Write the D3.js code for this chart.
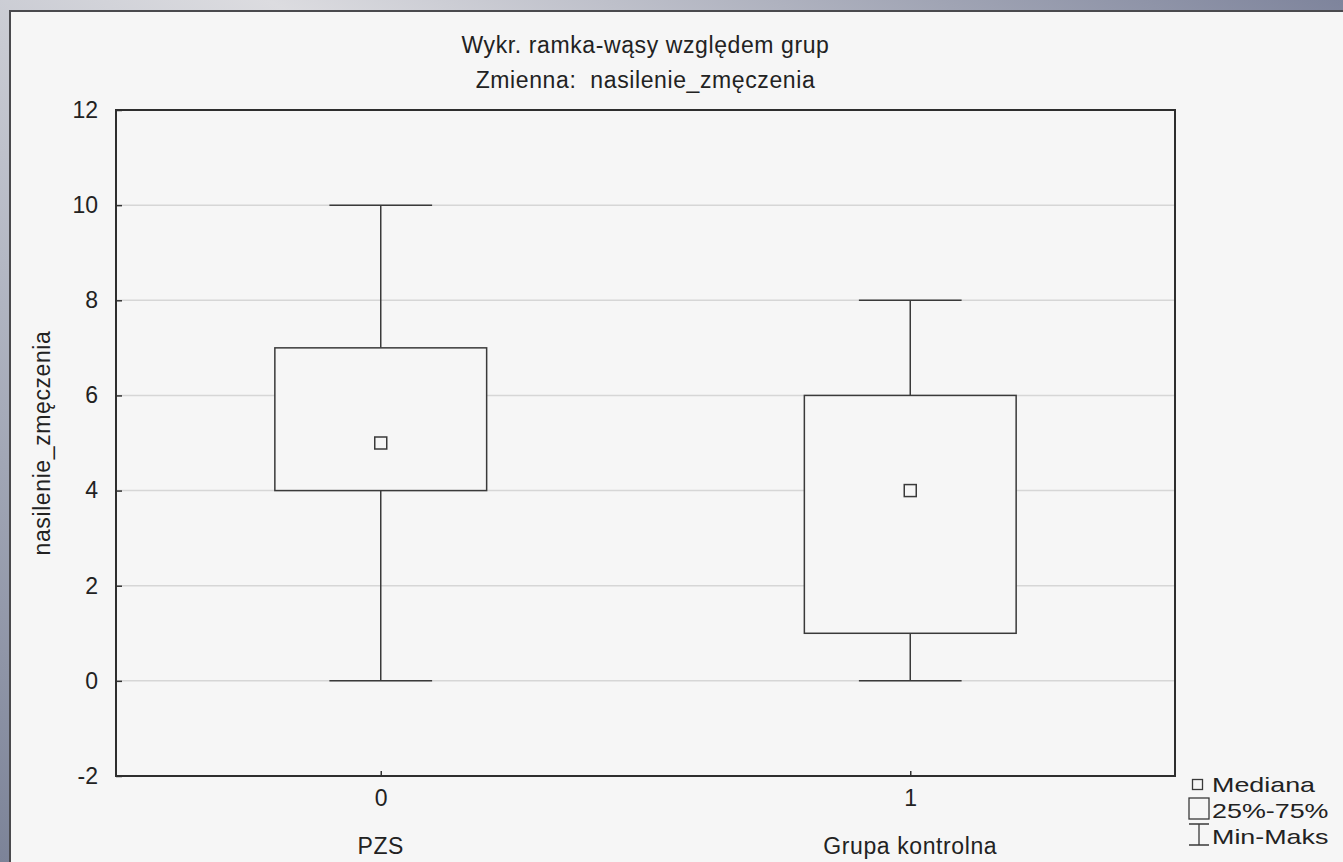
<!DOCTYPE html>
<html>
<head>
<meta charset="utf-8">
<script src="https://cdn.jsdelivr.net/npm/d3@7"></script>
<style>
  html, body { margin: 0; padding: 0; overflow: hidden; }
  svg text { font-family: "Liberation Sans", Arial, sans-serif; fill: #222; }
</style>
</head>
<body>
<div id="chart"></div>
<script>
// data
const groupCodes = ['0', '1'];
const groupNames = ['PZS', 'Grupa kontrolna'];
const mins = [0, 0];
const q1s = [4, 1];
const medians = [5, 4];
const q3s = [7, 6];
const maxs = [10, 8];
const yTicks = [-2, 0, 2, 4, 6, 8, 10, 12];
const titleLines = ['Wykr. ramka-wąsy względem grup', 'Zmienna:  nasilenie_zmęczenia'];
const yLabel = 'nasilenie_zmęczenia';
const legendLabels = ['Mediana', '25%-75%', 'Min-Maks'];

const W = 1343, H = 862;
const plot = {left: 116, right: 1175, top: 110, bottom: 776};
const fs = 23;

const svg = d3.select('#chart').append('svg')
  .attr('width', W)
  .attr('height', H);

// window-ish background
const defs = svg.append('defs');
const grad = defs.append('linearGradient')
  .attr('id', 'bg')
  .attr('x1', '0').attr('y1', '1').attr('x2', '1').attr('y2', '0');
grad.append('stop').attr('offset', '0').attr('stop-color', '#7c8398');
grad.append('stop').attr('offset', '0.35').attr('stop-color', '#b4b8c4');
grad.append('stop').attr('offset', '0.6').attr('stop-color', '#dcdce0');
grad.append('stop').attr('offset', '0.85').attr('stop-color', '#a0a4b4');
grad.append('stop').attr('offset', '1').attr('stop-color', '#7e849c');
svg.append('rect').attr('width', W).attr('height', H).attr('fill', 'url(#bg)');

// panel
svg.append('rect')
  .attr('x', 10).attr('y', 11)
  .attr('width', W).attr('height', H)
  .attr('fill', '#f6f6f6')
  .attr('stroke', '#4a4a4e')
  .attr('stroke-width', 2);

const x = d3.scaleLinear()
  .domain([-0.5, 1.5])
  .range([plot.left, plot.right]);

const y = d3.scaleLinear()
  .domain([-2, 12])
  .range([plot.bottom, plot.top]);

const data = groupCodes.map((c, i) => ({
  code: c, name: groupNames[i], idx: i,
  min: mins[i], q1: q1s[i], med: medians[i], q3: q3s[i], max: maxs[i]
}));

// grid
svg.append('g')
  .selectAll('line')
  .data(yTicks.filter(t => t > -2 && t < 12))
  .enter().append('line')
    .attr('x1', plot.left).attr('x2', plot.right)
    .attr('y1', d => y(d)).attr('y2', d => y(d))
    .attr('stroke', '#d6d6d6')
    .attr('stroke-width', 1.5);

// axes with inner ticks
const yAxis = d3.axisLeft(y)
  .tickValues(yTicks)
  .tickSizeInner(-6)
  .tickSizeOuter(0)
  .tickPadding(18)
  .tickFormat(d3.format('d'));

const gy = svg.append('g')
  .attr('transform', `translate(${plot.left},0)`)
  .call(yAxis);
gy.select('.domain').remove();
gy.selectAll('.tick line').attr('stroke', '#333').attr('stroke-width', 1.5);
gy.selectAll('.tick text')
  .attr('font-size', fs)
  .attr('fill', '#222')
  .text(d => d < 0 ? '-' + Math.abs(d) : d);

const xAxis = d3.axisBottom(x)
  .tickValues([0, 1])
  .tickSizeInner(-5)
  .tickSizeOuter(0)
  .tickPadding(14)
  .tickFormat((d, i) => groupCodes[i]);

const gx = svg.append('g')
  .attr('transform', `translate(0,${plot.bottom})`)
  .call(xAxis);
gx.select('.domain').remove();
gx.selectAll('.tick line').attr('stroke', '#333').attr('stroke-width', 1.5);
gx.selectAll('.tick text').attr('font-size', fs).attr('fill', '#222');

// group names under the codes
svg.append('g')
  .selectAll('text')
  .data(data)
  .enter().append('text')
    .attr('x', d => x(d.idx))
    .attr('y', 854)
    .attr('text-anchor', 'middle')
    .attr('font-size', fs)
    .attr('letter-spacing', 0.6)
    .text(d => d.name);

// frame
svg.append('rect')
  .attr('x', plot.left).attr('y', plot.top)
  .attr('width', plot.right - plot.left)
  .attr('height', plot.bottom - plot.top)
  .attr('fill', 'none')
  .attr('stroke', '#2e2e2e')
  .attr('stroke-width', 2);

// boxes
const boxHalf = 0.2, capHalf = 0.097;
const stroke = '#3a3a3a';
const boxes = svg.append('g')
  .selectAll('g')
  .data(data)
  .enter().append('g');

boxes.append('line')
  .attr('x1', d => x(d.idx)).attr('x2', d => x(d.idx))
  .attr('y1', d => y(d.max)).attr('y2', d => y(d.q3))
  .attr('stroke', stroke).attr('stroke-width', 1.5);
boxes.append('line')
  .attr('x1', d => x(d.idx)).attr('x2', d => x(d.idx))
  .attr('y1', d => y(d.q1)).attr('y2', d => y(d.min))
  .attr('stroke', stroke).attr('stroke-width', 1.5);
boxes.append('line')
  .attr('x1', d => x(d.idx - capHalf)).attr('x2', d => x(d.idx + capHalf))
  .attr('y1', d => y(d.max)).attr('y2', d => y(d.max))
  .attr('stroke', stroke).attr('stroke-width', 1.5);
boxes.append('line')
  .attr('x1', d => x(d.idx - capHalf)).attr('x2', d => x(d.idx + capHalf))
  .attr('y1', d => y(d.min)).attr('y2', d => y(d.min))
  .attr('stroke', stroke).attr('stroke-width', 1.5);
boxes.append('rect')
  .attr('x', d => x(d.idx - boxHalf))
  .attr('y', d => y(d.q3))
  .attr('width', d => x(d.idx + boxHalf) - x(d.idx - boxHalf))
  .attr('height', d => y(d.q1) - y(d.q3))
  .attr('fill', '#f6f6f6')
  .attr('stroke', stroke).attr('stroke-width', 1.5);
boxes.append('rect')
  .attr('x', d => x(d.idx) - 6)
  .attr('y', d => y(d.med) - 6)
  .attr('width', 12).attr('height', 12)
  .attr('fill', '#f6f6f6')
  .attr('stroke', stroke).attr('stroke-width', 1.5);

// titles
svg.append('g')
  .selectAll('text')
  .data(titleLines)
  .enter().append('text')
    .attr('x', (plot.left + plot.right) / 2)
    .attr('y', (d, i) => 53 + i * 35)
    .attr('text-anchor', 'middle')
    .attr('font-size', fs)
    .attr('letter-spacing', 0.6)
    .attr('xml:space', 'preserve')
    .text(d => d);

svg.append('text')
  .attr('transform', `translate(50,${(plot.top + plot.bottom) / 2}) rotate(-90)`)
  .attr('text-anchor', 'middle')
  .attr('font-size', fs)
  .attr('letter-spacing', 0.6)
  .text(yLabel);

// legend
const lg = svg.append('g').attr('transform', 'translate(1188,0)');
lg.append('rect').attr('x', 4.5).attr('y', 779.5).attr('width', 10).attr('height', 10)
  .attr('fill', 'none').attr('stroke', stroke).attr('stroke-width', 1.3);
lg.append('rect').attr('x', 1).attr('y', 798).attr('width', 20).attr('height', 21)
  .attr('fill', 'none').attr('stroke', stroke).attr('stroke-width', 1.3);
lg.append('path')
  .attr('d', 'M1,824H21M11,824V845M1,845H21')
  .attr('fill', 'none').attr('stroke', stroke).attr('stroke-width', 1.3);
lg.selectAll('text.lab')
  .data(legendLabels)
  .enter().append('text')
    .attr('class', 'lab')
    .attr('transform', (d, i) => `translate(24,${792 + i * 26}) scale(1.28,1)`)
    .attr('font-size', 21)
    .text(d => d);
</script>
</body>
</html>
